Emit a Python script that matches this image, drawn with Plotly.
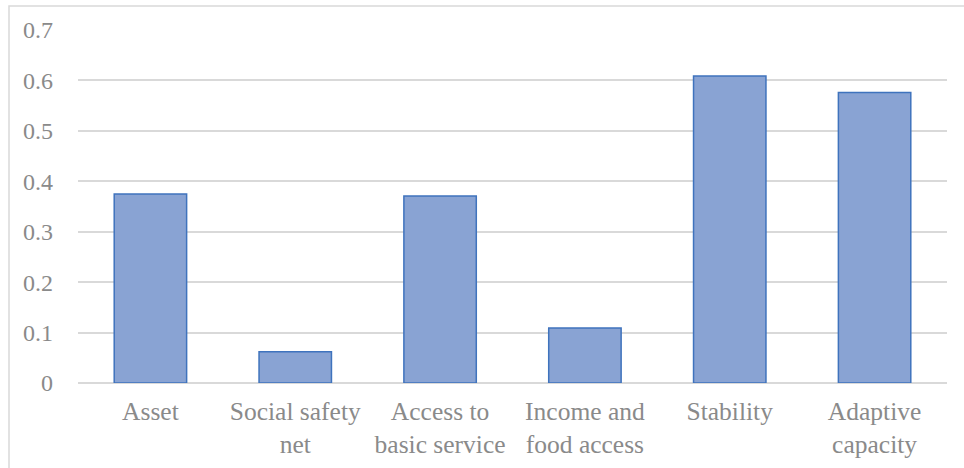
import plotly.graph_objects as go

# Resilience pillar scores
categories = [
    "Asset",
    "Social safety<br>net",
    "Access to<br>basic service",
    "Income and<br>food access",
    "Stability",
    "Adaptive<br>capacity",
]
scores = [0.375, 0.062, 0.371, 0.109, 0.609, 0.576]
y_ticks = [0, 0.1, 0.2, 0.3, 0.4, 0.5, 0.6, 0.7]
y_tick_text = ["0", "0.1", "0.2", "0.3", "0.4", "0.5", "0.6", "0.7"]

W, H = 964, 468
ML, MR, MT, MB = 78, 17, 30, 85

fig = go.Figure(
    go.Bar(
        x=categories,
        y=scores,
        marker=dict(color="#89A3D3", line=dict(color="#3F73BD", width=1.5)),
        hoverinfo="x+y",
    )
)

serif = "Liberation Serif, Times New Roman, serif"
x_font = dict(family=serif, size=25.5, color="#8A8A8A")
y_font = dict(family=serif, size=24, color="#8A8A8A")

fig.update_layout(
    width=W,
    height=H,
    margin=dict(l=ML, r=MR, t=MT, b=MB, pad=0),
    paper_bgcolor="white",
    plot_bgcolor="white",
    bargap=0.5,
    showlegend=False,
    font=y_font,
    xaxis=dict(
        automargin=False,
        showgrid=False,
        showline=False,
        zeroline=False,
        ticks="",
        tickfont=x_font,
        ticklabelstandoff=10,
    ),
    yaxis=dict(
        automargin=False,
        range=[0, 0.7],
        tickvals=y_ticks,
        ticktext=y_tick_text,
        showgrid=True,
        gridcolor="#D9D9D9",
        gridwidth=1.5,
        zeroline=True,
        zerolinecolor="#D9D9D9",
        zerolinewidth=1.5,
        showline=False,
        ticks="",
        tickfont=y_font,
        ticklabelstandoff=24,
    ),
    shapes=[
        # chart frame
        dict(
            type="rect",
            xref="paper",
            yref="paper",
            x0=(9 - ML) / (W - ML - MR),
            x1=(W + 20 - ML) / (W - ML - MR),
            y0=-(H + 20 - (H - MB)) / (H - MT - MB),
            y1=(H - 6 - MB) / (H - MT - MB),
            line=dict(color="#D9D9D9", width=1.5),
            fillcolor="rgba(0,0,0,0)",
            layer="below",
        )
    ],
)

fig.write_html("out.html")
